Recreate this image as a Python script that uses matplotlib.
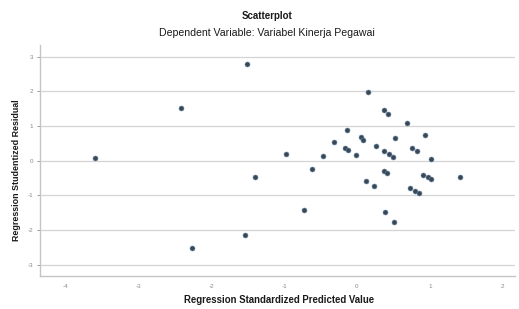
import matplotlib
matplotlib.use("Agg")
import matplotlib.pyplot as plt

plt.rcParams['font.family'] = ['Liberation Sans', 'DejaVu Sans']

title = "Scatterplot"
subtitle = "Dependent Variable: Variabel Kinerja Pegawai"
xlabel = "Regression Standardized Predicted Value"
ylabel = "Regression Studentized Residual"
xticks = [-4, -3, -2, -1, 0, 1, 2]
yticks = [-3, -2, -1, 0, 1, 2, 3]

predicted = [-1.51, -2.41, -3.59, -1.40, -2.26, -1.53, 0.15, 0.37, 0.42, 0.69,
             -0.13, 0.93, -0.32, 0.05, 0.09, 0.52, -0.98, -0.46, -0.16, -0.12,
             -0.01, 0.26, 0.37, 0.44, 0.49, 0.75, 0.82, 1.02, -0.62, 0.37,
             0.41, 0.91, 0.98, 1.02, 1.42, 0.13, 0.23, 0.73, 0.80, 0.85,
             -0.72, 0.39, 0.51]
residual = [2.79, 1.53, 0.09, -0.46, -2.53, -2.15, 1.97, 1.47, 1.36, 1.09,
            0.88, 0.74, 0.55, 0.67, 0.61, 0.65, 0.20, 0.13, 0.37, 0.30,
            0.15, 0.41, 0.29, 0.20, 0.11, 0.38, 0.28, 0.05, -0.25, -0.29,
            -0.35, -0.42, -0.48, -0.53, -0.47, -0.60, -0.72, -0.80, -0.89, -0.92,
            -1.43, -1.49, -1.76]

W, H = 519, 309
fig = plt.figure(figsize=(W / 100, H / 100), dpi=100)
ax = fig.add_axes([40 / W, (H - 276) / H, (515 - 40) / W, (276 - 45) / H])

ax.set_xlim(-4.35, 2.17)
ax.set_ylim(-3.33, 3.34)
ax.set_xticks(xticks)
ax.set_yticks(yticks)
ax.set_xticklabels([str(v) for v in xticks])
ax.set_yticklabels([str(v) for v in yticks])
ax.tick_params(axis='both', labelsize=4.5, colors='#888888', length=2, width=0.6, pad=3)
ax.tick_params(axis='x', length=0, pad=6)

for s in ['top', 'right']:
    ax.spines[s].set_visible(False)
for s in ['left', 'bottom']:
    ax.spines[s].set_color('#c4c4c4')
    ax.spines[s].set_linewidth(1.0)

ax.yaxis.grid(True, color='#d4d4d4', linewidth=0.9)
ax.set_axisbelow(True)

ax.scatter(predicted, residual, s=13, color='#3a4755', edgecolors='#6a8aa8',
           linewidths=0.4, zorder=3)

fig.text(267 / W, 1 - 16 / H, title, ha='center', va='center', fontsize=7,
         fontweight='bold', color='#1a1a1a')
fig.text(267 / W, 1 - 33 / H, subtitle, ha='center', va='center', fontsize=7.6,
         color='#1a1a1a')
fig.text(279 / W, 1 - 300 / H, xlabel, ha='center', va='center', fontsize=6.9,
         fontweight='bold', color='#1a1a1a')
fig.text(17 / W, 1 - 170 / H, ylabel, ha='center', va='center', fontsize=6.4,
         fontweight='bold', color='#1a1a1a', rotation=90)

fig.savefig("out.png", dpi=100)
